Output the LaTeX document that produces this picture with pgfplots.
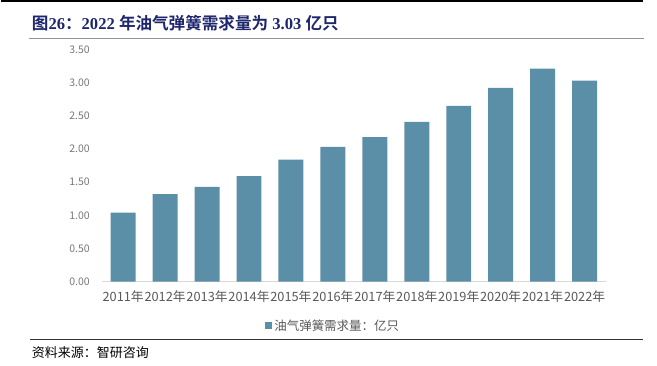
\documentclass[border=0pt]{standalone}
\usepackage{pgfplots}
\pgfplotsset{compat=1.18}
\usepackage{fontspec}
\setmainfont{Noto Sans CJK SC}[BoldFont={Noto Sans CJK SC Bold}]
\newfontfamily\cjkb{Noto Sans CJK SC Bold}
\newfontfamily\tnr{Liberation Serif}[BoldFont={Liberation Serif Bold}]
\definecolor{barc}{RGB}{91,143,168}
\definecolor{titleblue}{RGB}{30,38,110}
\definecolor{lblgray}{RGB}{89,89,89}
\definecolor{ticklgray}{RGB}{120,120,120}
\definecolor{axgray}{RGB}{217,217,217}
\begin{document}
\begin{tikzpicture}[x=1pt,y=1pt]
\path[fill=white] (0,0) rectangle (657,366);
% top black line and title rule
\draw[black,line width=1.6pt] (0,365) -- (643,365);
\draw[gray!85,line width=1.8pt] (28,327.5) -- (644,327.5);
\node[anchor=west,text=titleblue,inner sep=0pt] at (31,342.5)
  {\fontsize{16.6}{18}\selectfont{\cjkb 图}{\tnr\bfseries 26}{\cjkb ：}{\tnr\bfseries 2022 }{\cjkb 年油气弹簧需求量为}{\tnr\bfseries\ 3.03 }{\cjkb 亿只}};
% bottom rule and source
\draw[black!80,line width=0.8pt] (29,25.7) -- (643,25.7);
\node[anchor=west,inner sep=0pt] at (31,12.5) {\fontsize{13}{15}\selectfont 资料来源：智研咨询};
\begin{axis}[
  at={(101.5pt,84pt)}, anchor=south west,
  scale only axis, width=504pt, height=232.5pt,
  xmin=-0.5, xmax=11.5, ymin=0, ymax=3.5,
  ybar, bar width=25pt,
  axis x line*=bottom, axis y line*=left,
  separate axis lines,
  x axis line style={draw=axgray, line width=0.8pt},
  y axis line style={draw=none},
  major tick length=0pt,
  xtick={0,1,2,3,4,5,6,7,8,9,10,11},
  xticklabels={2011年,2012年,2013年,2014年,2015年,2016年,2017年,2018年,2019年,2020年,2021年,2022年},
  xticklabel style={font=\fontsize{12.8}{14}\selectfont, text=lblgray, yshift=-6pt},
  ytick={0,0.5,1,1.5,2,2.5,3,3.5},
  yticklabel style={font=\fontsize{10.5}{12}\selectfont, text=ticklgray, xshift=-9pt,
    /pgf/number format/.cd, fixed, fixed zerofill, precision=2},
  /pgf/number format/assume math mode=true,
  legend style={at={(0.459,-0.19)}, anchor=center, draw=none, fill=none,
    font=\fontsize{12.5}{14}\selectfont, text=lblgray},
  legend image code/.code={\fill[barc] (0pt,-3.5pt) rectangle (7pt,3.5pt);},
]
\addplot[fill=barc, draw=none] coordinates {
 (0,1.04) (1,1.32) (2,1.43) (3,1.59) (4,1.84) (5,2.03)
 (6,2.18) (7,2.41) (8,2.65) (9,2.92) (10,3.21) (11,3.03)};
\addlegendentry{油气弹簧需求量：亿只}
\end{axis}
\end{tikzpicture}
\end{document}
